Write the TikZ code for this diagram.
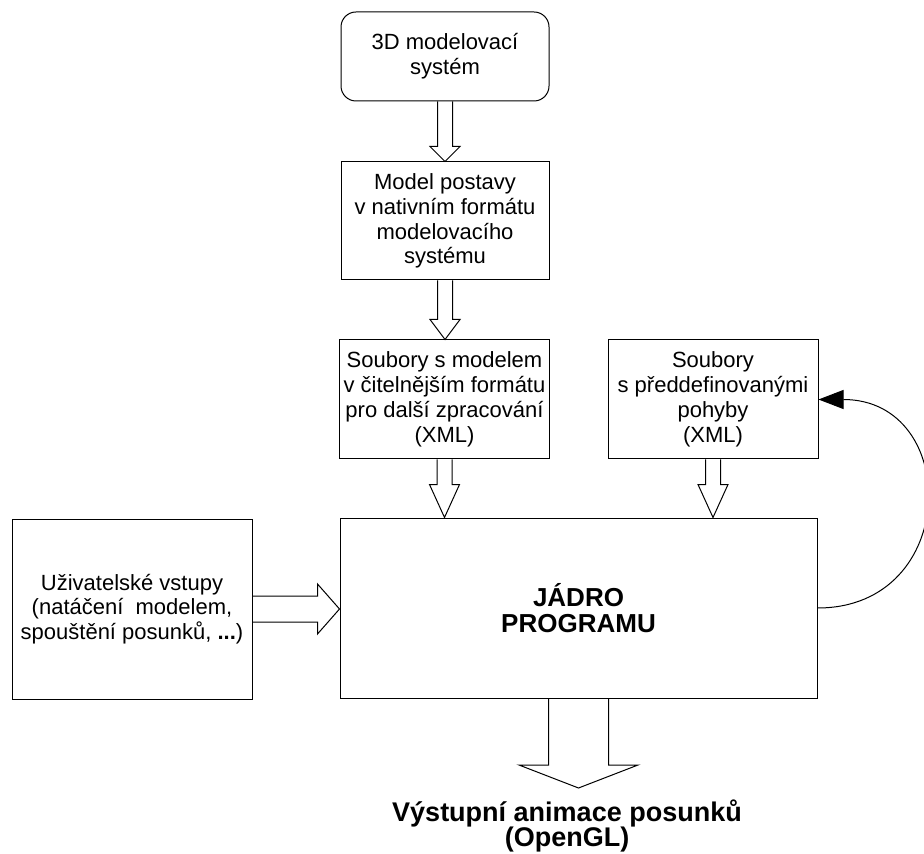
\documentclass[tikz,border=0pt]{standalone}
\usepackage{fontspec}
\setmainfont{Liberation Sans}
\usetikzlibrary{calc,arrows.meta}

\tikzset{
  blok/.style={draw, line width=0.5pt, align=center, inner sep=2pt,
    font=\fontsize{11}{12.4}\selectfont},
  sipka/.style={draw, line width=0.5pt, line join=miter},
}

% dutá šipka dolů: #1 odkud, #2 kam, #3 půl dříku, #4 půl hrotu, #5 délka hrotu
\newcommand{\sipkadolu}[5]{%
  \draw[sipka] let \p1=(#1.south), \p2=(#2.north) in
    (\x1-#3,\y1) -- (\x1-#3,\y2+#5) -- (\x1-#4,\y2+#5) -- (\x1,\y2)
    -- (\x1+#4,\y2+#5) -- (\x1+#3,\y2+#5) -- (\x1+#3,\y1);}
% dutá šipka doprava
\newcommand{\sipkavpravo}[5]{%
  \draw[sipka] let \p1=(#1.east), \p2=(#2.west) in
    (\x1,\y1+#3) -- (\x2-#5,\y1+#3) -- (\x2-#5,\y1+#4) -- (\x2,\y1)
    -- (\x2-#5,\y1-#4) -- (\x2-#5,\y1-#3) -- (\x1,\y1-#3);}

\begin{document}
\begin{tikzpicture}[x=0.5pt, y=-0.5pt]
  \useasboundingbox (0,0) rectangle (924,854);

  % Bloky
  \node[blok, rounded corners=7.5pt, minimum width=104pt, minimum height=44.5pt]
    (system) at (445,56.5) {3D modelovací\\systém};
  \node[blok, minimum width=104pt, minimum height=59pt]
    (nativni) at (445,221) {Model postavy\\v nativním formátu\\modelovacího\\systému};
  \node[blok, minimum width=104.5pt, minimum height=59.5pt]
    (soubory) at (444.5,399.5) {Soubory s modelem\\v čitelnějším formátu\\pro další zpracování\\(XML)};
  \node[blok, minimum width=105pt, minimum height=59.5pt]
    (pohyby) at (713,399.5) {Soubory\\s předdefinovanými\\pohyby\\(XML)};
  \node[blok, minimum width=238.5pt, minimum height=90pt,
    font=\fontsize{13}{12.8}\selectfont\bfseries]
    (jadro) at (578.5,608) {JÁDRO\\PROGRAMU};
  \node[blok, minimum width=120pt, minimum height=90pt]
    (vstupy) at (132,609) {Uživatelské vstupy\\(natáčení\ \ modelem,\\spouštění posunků, \textbf{...})};
  \node[align=center, anchor=north, inner xsep=0pt, inner ysep=6pt, outer sep=0pt,
    font=\fontsize{13.5}{12.6}\selectfont\bfseries]
    (vystup) at (567,788) {Výstupní animace posunků\\(OpenGL)};

  % Sipky
  \sipkadolu{system}{nativni}{3.75pt}{7.5pt}{7.5pt}
  \sipkadolu{nativni}{soubory}{3.75pt}{7.5pt}{10pt}
  \sipkadolu{soubory}{jadro}{3.75pt}{7.5pt}{16.5pt}
  \sipkadolu{pohyby}{jadro}{3.75pt}{7.5pt}{16.5pt}
  \sipkadolu{jadro}{vystup}{15pt}{29.75pt}{11.5pt}
  \sipkavpravo{vstupy}{jadro}{6.5pt}{12.5pt}{11pt}

  \draw[line width=0.5pt, -{Triangle[length=12.5pt,width=9.5pt]}]
    (jadro.east) .. controls +(143,0) and +(143,0) .. (pohyby.east);
\end{tikzpicture}
\end{document}
